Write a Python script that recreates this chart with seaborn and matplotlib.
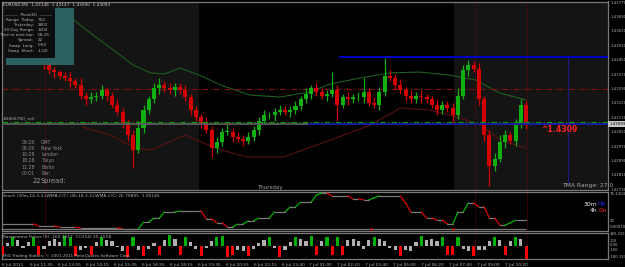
import numpy as np
import matplotlib
matplotlib.use("Agg")
import matplotlib.pyplot as plt
import matplotlib.transforms as mtransforms
from matplotlib.patches import Rectangle
import pandas as pd
import seaborn as sns

# ---------------- data ----------------
symbol_header = "EURUSD,M5  1.43146  1.43147  1.43090  1.43093"
price_base = 1.4200          # prices below are pips above this base
pip = 0.0001

candle_first_bar = 24        # M5 bar index of first drawn candle
candle_step = 3              # M5 bars per drawn candle
open0_pips = 144
close_pips = [142, 139, 138, 136, 135, 133, 131, 125, 123, 124,
              125, 128, 125, 120, 116, 110, 103, 95, 107, 117,
              123, 129, 131, 129, 128, 130, 128, 124, 117, 113,
              110, 106, 96, 99, 105, 105, 102, 101, 100, 102,
              106, 111, 114, 114, 116, 117, 116, 117, 119, 123,
              126, 129, 127, 125, 126, 128, 120, 124, 123, 124,
              124, 127, 121, 120, 127, 136, 135, 131, 128, 125,
              123, 125, 124, 123, 120, 117, 120, 118, 114, 125,
              139, 142, 140, 123, 103, 86, 90, 99, 103, 100,
              109, 120, 109.3]
wick_up_pips = [2, 3, 2, 1, 2, 3, 2, 4, 2, 3, 2, 3, 2, 2, 3, 2, 2, 3, 4, 3,
                2, 3, 4, 2, 3, 2, 2, 3, 2, 2, 2, 3, 2, 3, 2, 4, 2, 3, 2, 3,
                2, 2, 3, 2, 2, 3, 2, 2, 3, 2, 3, 2, 3, 2, 2, 10, 3, 2, 3, 2,
                3, 8, 2, 3, 3, 10, 3, 2, 3, 2, 3, 2, 3, 2, 2, 3, 2, 2, 3, 4,
                3, 3, 2, 3, 2, 3, 3, 4, 3, 2, 3, 3, 2]
wick_dn_pips = [2, 2, 3, 2, 2, 3, 2, 2, 3, 2, 2, 2, 3, 2, 2, 3, 3, 10, 2, 3,
                2, 2, 3, 2, 2, 3, 2, 2, 3, 2, 3, 2, 5, 3, 2, 2, 3, 2, 3, 2,
                2, 3, 2, 2, 3, 2, 2, 3, 2, 2, 2, 3, 2, 2, 3, 2, 9, 2, 3, 2,
                2, 3, 2, 2, 3, 2, 2, 3, 2, 3, 2, 2, 3, 2, 2, 3, 2, 2, 4, 2,
                2, 3, 2, 3, 3, 11, 3, 2, 3, 2, 3, 2, 3]

tma_upper_bars = [32, 37, 46, 56, 66, 75, 85, 93, 102, 113, 125, 142, 159, 176,
                  188, 205, 222, 239, 256, 271, 285, 300]
tma_upper_pips = [174.2, 170.9, 163.1, 155.9, 148.7, 142.0, 137.6, 137.0, 140.3,
                  136.4, 130.9, 125.3, 124.2, 127.0, 131.4, 134.8, 137.6, 138.1,
                  136.4, 133.7, 126.4, 122.6]
tma_lower_bars = [46, 62, 75, 85, 105, 122, 140, 161, 188, 211, 228, 245, 262,
                  274, 285, 300]
tma_lower_pips = [107.6, 103.1, 96.4, 94.8, 103.1, 95.9, 90.9, 90.9, 100.3,
                  108.7, 118.1, 117.0, 112.6, 108.7, 100.3, 95.9]

level_green = 1.43105
level_bid = 1.43093
level_red = 1.43285
level_blue = 1.43466
bid_blue_from_bar = 175
blue_line_from_bar = 193
blue_vline_bar = 324
blue_vline_low = 1.42764
red_vline_bars = [24.6, 270.7, 300.5]
session_spans = [(0, 113), (259, 347)]

price_ticks = [1.43770, 1.43690, 1.43610, 1.43530, 1.43450, 1.43370, 1.43290,
               1.43210, 1.43130, 1.43050, 1.42970, 1.42890, 1.42810, 1.42730]

stoch_step = 3
stoch30 = [13, 13, 13, 13, 13, 13, 13, 8, 8, 8,
           8, 5, 5, 5, 5, 3, 3, 3, 3, 3,
           3, 3, 3, 0, 0, 0, 0, 18, 18, 28,
           28, 44, 44, 44, 46, 46, 46, 46, 46, 26,
           26, 16, 16, 5, 5, 13, 13, 21, 21, 28,
           28, 28, 44, 44, 44, 57, 57, 69, 69, 69,
           87, 92, 92, 85, 85, 85, 85, 77, 77, 75,
           75, 80, 85, 85, 85, 85, 85, 67, 44, 44,
           44, 28, 28, 23, 23, 13, 13, 44, 44, 67,
           67, 57, 57, 28, 28, 10, 10, 16, 23, 23,
           23]
stoch4h_level = 1
stoch4h_dot_bars = [211, 258]

hist_step = 3
hist_vals = [-200, 60, 200, 120, -60, 80, 190, -220, -80, 110,
             140, 90, 210, 180, -230, -100, -60, -210, 70, 200,
             130, 100, -40, -120, -250, 190, -90, -240, -70, 60,
             -220, 120, 230, 140, -200, 180, 90, -80, -230, -60,
             110, 200, 220, -250, -200, -90, -120, -240, -70, 60,
             130, 200, -60, -260, -110, 90, 190, 140, 100, 210,
             -220, 110, 200, -210, 190, -200, 120, 150, 100, -70,
             130, 200, 150, 110, -60, -100, -230, -90, -120, 80,
             210, 130, 150, 100, 200, -220, -200, 190, -80, -130,
             -240, -110, -90, 100, 200, 120, -210, 110, 190, 140,
             -290]

time_tick_bars = list(range(0, 289, 16))
time_labels = ["6 Jul 2011", "6 Jul 11:35", "6 Jul 12:55", "6 Jul 14:15",
               "6 Jul 15:35", "6 Jul 16:55", "6 Jul 18:15", "6 Jul 19:35",
               "6 Jul 20:55", "6 Jul 22:15", "6 Jul 23:40", "7 Jul 01:00",
               "7 Jul 02:20", "7 Jul 03:40", "7 Jul 05:00", "7 Jul 06:20",
               "7 Jul 07:40", "7 Jul 09:00", "7 Jul 10:20"]

pivot_labels = ["Range  Today:", "Yesterday:", "10 Day Range:", "Time to next bar:",
                "Spread:", "Swap  Long:", "Swap  Short:"]
pivot_values = ["710", "1802", "1204", "03:25", "22", "0.50", "-1.00"]
session_times = ["09:28", "05:28", "10:28", "18:28", "11:28", "00:01"]
session_names = ["GMT", "New York", "London", "Tokyo", "Berlin", "Bar:"]

# ---------------- style ----------------
W, H = 625, 267
sns.set_theme(style="dark", rc={"axes.facecolor": "black",
                                "figure.facecolor": "black",
                                "axes.grid": False})
plt.rcParams['font.family'] = ['DejaVu Sans']
NARROW = ['Liberation Sans Narrow', 'DejaVu Sans']

GREEN = '#10b010'
RED = '#d40000'
GRAY_TXT = '#b4b4b4'
SPINE = '#7a7a7a'
BAR_PX = 1.747


def fx(px):
    return px / W


def fy(py):
    return 1 - py / H


def ftext(x, y, s, size, color=GRAY_TXT, ha='left', **kw):
    return fig.text(fx(x), fy(y), s, fontsize=size, color=color, va='center',
                    ha=ha, family=NARROW, **kw)


fig = plt.figure(figsize=(W / 100, H / 100), dpi=100, facecolor='black')
axw = fx(608) - fx(2)
ax = fig.add_axes([fx(2), fy(190), axw, fy(2) - fy(190)])
ax_st = fig.add_axes([fx(2), fy(231), axw, fy(192) - fy(231)])
ax_h = fig.add_axes([fx(2), fy(259), axw, fy(233) - fy(259)])

xmax = (608 - 2) / BAR_PX
for a in (ax, ax_st, ax_h):
    a.set_facecolor('black')
    a.set_xlim(0, xmax)
    for s in a.spines.values():
        s.set_color(SPINE)
        s.set_linewidth(0.9)
    a.tick_params(axis='both', which='both', length=0, labelsize=4)
    a.set_xticks([])
    a.set_yticks([])
    for b in red_vline_bars:
        a.axvline(b, color='#8a0000', lw=0.6, ls=(0, (1, 1.5)), zorder=1)

# ---------------- main panel ----------------
ytop = 1.43770
ybot = ytop - 188 * 0.0008 / 14.4
ax.set_ylim(ybot, ytop)
for x0, x1 in session_spans:
    ax.axvspan(x0, x1, color='#141414', lw=0, zorder=0)

n = len(close_pips)
cbars = candle_first_bar + candle_step * np.arange(n)
closes = price_base + np.array(close_pips, float) * pip
opens = np.r_[price_base + open0_pips * pip, closes[:-1]]
highs = np.maximum(opens, closes) + np.array(wick_up_pips) * pip
lows = np.minimum(opens, closes) - np.array(wick_dn_pips) * pip
cols = np.where(closes >= opens, GREEN, RED)
ax.vlines(cbars, lows, highs, colors=cols, lw=0.9, zorder=3)
body = np.where(np.abs(closes - opens) < 0.00003, 0.00003, closes - opens)
ax.bar(cbars, body, bottom=opens, width=2.3, color=cols, lw=0, zorder=4)

up_df = pd.DataFrame({"bar": tma_upper_bars,
                      "price": price_base + np.array(tma_upper_pips) * pip})
lo_df = pd.DataFrame({"bar": tma_lower_bars,
                      "price": price_base + np.array(tma_lower_pips) * pip})
sns.lineplot(data=up_df, x="bar", y="price", ax=ax, color='#1d5e1d', lw=0.8,
             legend=False, zorder=2)
sns.lineplot(data=lo_df, x="bar", y="price", ax=ax, color='#5a1212', lw=0.8,
             legend=False, zorder=2)
ax.set_xlabel("")
ax.set_ylabel("")

ax.axhline(level_green, color='#00a000', lw=0.8, ls=(0, (5, 2, 1, 2)), zorder=5)
ax.axhline(level_red, color='#8a1010', lw=0.8, ls=(0, (5, 2, 1, 2)), zorder=2)
ax.hlines(level_bid, 0, bid_blue_from_bar, color='#5a5a5a', lw=1.3, zorder=5)
ax.hlines(level_bid, bid_blue_from_bar, xmax, color='#1c1ca8', lw=1.3, zorder=5)
ax.hlines(level_blue, blue_line_from_bar, xmax, color='#0000c8', lw=1.4, zorder=5)
ax.vlines(blue_vline_bar, blue_vline_low, level_blue, color='#1a1a80', lw=0.8, zorder=2)

ax.yaxis.tick_right()
ax.set_yticks(price_ticks)
ax.set_yticklabels([f"{v:.5f}" for v in price_ticks], family=NARROW)
ax.tick_params(axis='y', length=1, pad=0.5, labelsize=2.8, colors=GRAY_TXT)
ax.set_xticks([])
btr = mtransforms.blended_transform_factory(ax.transAxes, ax.transData)
ax.text(1.002, level_bid, f"{level_bid:.5f}", transform=btr, fontsize=2.8,
        color='black', va='center', ha='left', zorder=10, family=NARROW,
        bbox=dict(boxstyle='square,pad=0.2', fc='#c8c8c8', ec='none'))

# info panel
fig.add_artist(Rectangle((fx(5), fy(58)), fx(55) - fx(5), fy(10) - fy(58),
                         transform=fig.transFigure, fc='#0e0e0e', ec='none', zorder=5))
fig.add_artist(Rectangle((fx(55), fy(65)), fx(74) - fx(55), fy(8) - fy(65),
                         transform=fig.transFigure, fc='#2d6262', ec='none', zorder=5))
fig.add_artist(Rectangle((fx(6), fy(65)), fx(74) - fx(6), fy(58) - fy(65),
                         transform=fig.transFigure, fc='#2d6262', ec='none', zorder=5))
ftext(3, 4.5, symbol_header, 3.1, color='#d0d0d0', zorder=6)
ftext(29, 15, "———  Pivot3D  ———", 3.1, ha='center', zorder=6)
for i, (lab, val) in enumerate(zip(pivot_labels, pivot_values)):
    yy = 20 + 5.1 * i
    ftext(34, yy, lab, 3.0, ha='right', zorder=6)
    ftext(38, yy, val, 3.0, zorder=6)

ftext(3, 118.5, "#3868780_sell", 3.2, color='#9aa09a')
for i, (t, nm) in enumerate(zip(session_times, session_names)):
    yy = 142 + 6.3 * i
    ftext(35, yy, t, 3.3, color='#8c8c8c', ha='right')
    ftext(41, yy, nm, 3.3, color='#8c8c8c')
ftext(33, 181, "22", 4.8, color='#9a9a9a')
ftext(41, 181, "Spread:", 4.8, color='#9a9a9a')
ftext(270, 187, "Thursday", 4.0, color='#a8a8a8', ha='center')
ftext(562, 185, "TMA Range: 27.0", 4.3, color='#a8a8a8')
ftext(541, 129, "^1.4309", 5.6, color='#ff2020', fontweight='bold')

# ---------------- stoch panel ----------------
ax_st.set_ylim(-5, 95)
sbars = stoch_step * np.arange(len(stoch30))
sv = np.array(stoch30, float)
for i in range(len(sv) - 1):
    d = sv[i + 1] - sv[i]
    c = '#7a7a7a' if d == 0 else ('#00b400' if d > 0 else '#e00000')
    ax_st.plot(sbars[i:i + 2], sv[i:i + 2], color=c, lw=0.9, zorder=3)
ax_st.hlines(stoch4h_level, 0, sbars[-1], color='#7a7a7a', lw=0.9, zorder=3)
ax_st.scatter(stoch4h_dot_bars, [stoch4h_level] * len(stoch4h_dot_bars),
              s=3, color='#ff0000', zorder=4, lw=0)
ftext(3, 196, "Stoch (30m,14,3,3,LWMA,C/C) (4h,18,3,3,LWMA,C/C) 26.70895  1.00145", 3.2)
ftext(609.5, 194, "76.3303", 2.8)
ftext(609.5, 221, "20", 2.8)
ftext(609.5, 227, "0.00010", 2.8)
ftext(597, 204, "30m", 4.4, color='#e8e8e8', ha='right')
ftext(598, 204, "Up", 4.4, color='#2030ff')
ftext(597, 210, "4h", 4.4, color='#e8e8e8', ha='right')
ftext(598, 210, "Dn", 4.4, color='#ff2020')

# ---------------- histogram panel ----------------
ax_h.set_ylim(-300, 280)
hbars = hist_step * np.arange(len(hist_vals))
hv = np.array(hist_vals, float)
hcols = np.where(hv >= 180, '#00b000', np.where(hv <= -180, '#ff0000', '#b0b0b0'))
ax_h.bar(hbars, hv, width=1.8, color=hcols, lw=0, zorder=3)
ftext(3, 236.5, "Ramanamo Fisher (9) -160.3617  CCI(14) 25.1558", 3.2)
ftext(3, 255.5, "MIG Trading Station, \u00a9 2001-2011 MetaQuotes Software Corp.", 3.0)
for lab, yy in [("180.333", 234), ("100", 241), ("0.00", 244.5), ("-100", 250),
                ("-180.333", 257)]:
    ftext(609.5, yy, lab, 2.7)

ax_h.set_xticks(time_tick_bars)
ax_h.set_xticklabels(time_labels, ha='left', family=NARROW)
ax_h.tick_params(axis='x', length=2, pad=1, labelsize=3.1, colors=GRAY_TXT,
                 direction='out')

fig.savefig("out.png", dpi=100, facecolor='black')
